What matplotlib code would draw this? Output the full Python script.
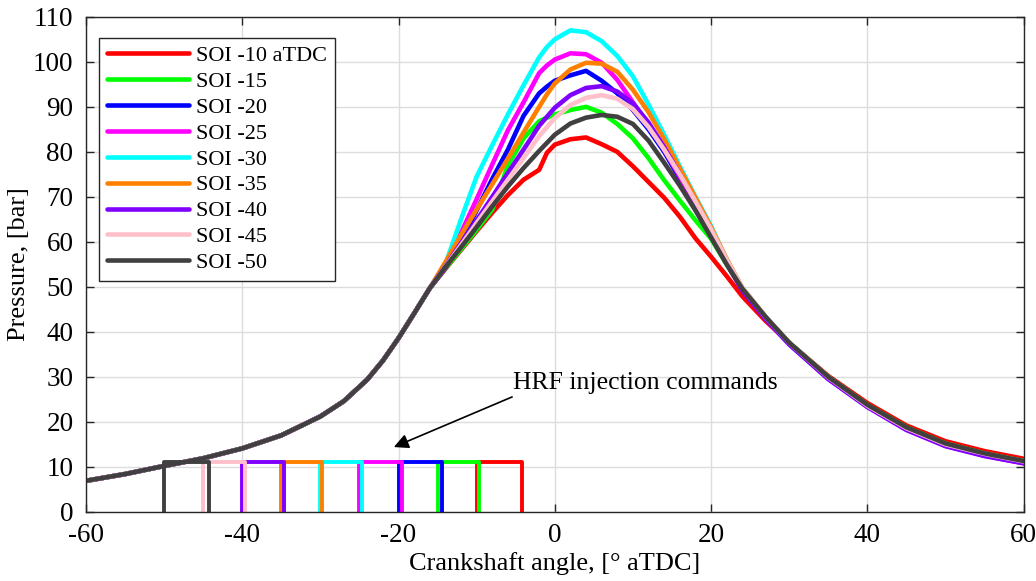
import matplotlib
matplotlib.use('Agg')
import matplotlib.pyplot as plt
import numpy as np

plt.rcParams['font.family'] = ['Liberation Serif', 'DejaVu Serif']
plt.rcParams['axes.unicode_minus'] = False

# compression stroke, identical for every case
theta_comp = [-60, -55, -50, -45, -40, -35, -30, -27, -24, -22, -20, -18, -16]
p_comp = [6.9, 8.4, 10.2, 11.9, 14.1, 17.0, 21.2, 24.6, 29.4, 33.6, 38.6, 44.1, 49.7]

# combustion / expansion part, one list per start of injection
theta_comb = [-14, -12, -10, -8, -6, -4, -2, -1, 0, 2, 4, 6, 8, 10, 12, 14, 16, 18, 20,
              22, 24, 27, 30, 35, 40, 45, 50, 55, 60]

p_soi10 = [54.0, 58.2, 62.4, 66.5, 70.4, 73.8, 76.0, 79.8, 81.6, 82.8, 83.2, 81.7, 80.0, 76.8,
           73.3, 69.8, 65.6, 60.8, 56.7, 52.4, 47.9, 42.4, 37.6, 30.2, 24.2, 19.2, 15.7, 13.5, 11.8]
p_soi15 = [54.1, 58.4, 62.7, 67.2, 77.0, 83.0, 86.8, 87.6, 88.3, 89.3, 90.0, 88.7, 86.2, 83.0,
           78.6, 73.7, 69.2, 64.8, 60.7, 55.0, 49.4, 43.2, 37.6, 30.0, 23.8, 18.8, 15.2, 13.0, 11.3]
p_soi20 = [54.2, 60.0, 67.0, 74.0, 80.5, 88.0, 93.0, 94.5, 95.8, 97.0, 98.0, 95.8, 93.0, 89.3,
           85.0, 80.0, 74.0, 68.0, 61.8, 55.2, 49.6, 43.2, 37.5, 29.8, 23.6, 18.6, 15.0, 12.8, 11.1]
p_soi25 = [54.3, 62.0, 69.5, 77.2, 84.8, 91.0, 97.5, 99.2, 100.5, 101.9, 101.7, 99.8, 96.0, 91.0,
           86.0, 80.5, 74.5, 68.3, 62.0, 55.2, 49.4, 43.0, 37.3, 29.6, 23.4, 18.3, 14.7, 12.5, 10.8]
p_soi30 = [55.0, 65.0, 74.5, 81.5, 88.3, 94.8, 101.0, 103.3, 105.0, 107.0, 106.6, 104.6, 101.3, 96.8,
           90.5, 83.8, 76.8, 70.0, 63.5, 56.0, 49.8, 43.3, 37.6, 29.9, 23.6, 18.6, 15.0, 12.9, 11.2]
p_soi35 = [55.5, 61.5, 67.2, 72.8, 78.5, 84.3, 90.0, 92.8, 95.2, 98.3, 99.8, 99.6, 97.8, 93.8,
           88.8, 82.8, 76.3, 69.8, 63.2, 56.2, 49.8, 43.3, 37.6, 29.9, 23.6, 18.6, 15.0, 12.9, 11.2]
p_soi40 = [54.6, 59.7, 64.8, 70.0, 75.3, 80.5, 85.8, 87.8, 89.8, 92.6, 94.2, 94.6, 93.4, 90.8,
           86.5, 81.0, 75.0, 68.5, 62.0, 55.2, 49.2, 42.8, 37.2, 29.5, 23.3, 18.2, 14.6, 12.4, 10.8]
p_soi45 = [54.5, 59.3, 64.2, 69.0, 73.8, 78.6, 83.5, 85.5, 87.5, 90.4, 92.0, 92.6, 91.8, 89.5,
           85.5, 80.5, 75.0, 69.0, 62.8, 56.0, 49.8, 43.3, 37.6, 29.9, 23.6, 18.6, 15.0, 12.9, 11.2]
p_soi50 = [54.4, 58.8, 63.3, 67.9, 72.3, 76.4, 80.2, 82.0, 83.8, 86.3, 87.6, 88.2, 87.8, 86.2,
           82.5, 77.6, 72.5, 67.0, 61.0, 55.0, 49.6, 43.3, 37.6, 30.0, 23.8, 18.8, 15.2, 13.0, 11.3]

labels = ['SOI -10 aTDC', 'SOI -15', 'SOI -20', 'SOI -25', 'SOI -30',
          'SOI -35', 'SOI -40', 'SOI -45', 'SOI -50']
colors = ['#ff0000', '#00ff00', '#0000ff', '#ff00ff', '#00ffff',
          '#ff8000', '#8000ff', '#ffc0cb', '#404040']
curves = [p_soi10, p_soi15, p_soi20, p_soi25, p_soi30, p_soi35, p_soi40, p_soi45, p_soi50]

# HRF injection command pulses (start / end angle, command level)
inj_start = [-10, -15, -20, -25, -30, -35, -40, -45, -50]
inj_end = [-4.2, -9.7, -14.4, -19.6, -24.7, -29.8, -34.7, -39.6, -44.3]
inj_level = 11

fig = plt.figure(figsize=(10.36, 5.81), dpi=100)
ax = fig.add_axes([0.083, 0.119, 0.905, 0.852])

theta = theta_comp + theta_comb
for p, c, lab in zip(curves, colors, labels):
    ax.plot(theta, p_comp + p, color=c, lw=3.3, label=lab,
            solid_joinstyle='round', solid_capstyle='round')

for s, e, c in zip(inj_start, inj_end, colors):
    ax.plot([s, s, e, e], [0, inj_level, inj_level, 0], color=c, lw=2.8)

ax.set_xlim(-60, 60)
ax.set_ylim(0, 110)
ax.set_xticks(np.arange(-60, 61, 20))
ax.set_yticks(np.arange(0, 111, 10))
ax.grid(True, color='#dcdcdc', lw=1.0)
ax.set_axisbelow(True)
ax.tick_params(direction='in', top=True, right=True, labelsize=19.5, length=6,
               color='#262626', width=1.0)
ax.tick_params(axis='y', pad=9)
ax.tick_params(axis='x', pad=8)
for sp in ax.spines.values():
    sp.set_color('#262626')
    sp.set_linewidth(1.0)

ax.set_xlabel('Crankshaft angle, [\u00b0 aTDC]', fontsize=19, labelpad=3)
ax.set_ylabel('Pressure, [bar]', fontsize=19, labelpad=2)

ax.annotate('HRF injection commands', xy=(-20.6, 14.4), xytext=(-5.3, 28.6),
            fontsize=18.5, va='center', ha='left',
            arrowprops=dict(arrowstyle='-|>', color='k', lw=1.2, mutation_scale=22,
                            shrinkA=0, shrinkB=0, relpos=(0.02, 0.0)))

leg = ax.legend(loc='upper left', bbox_to_anchor=(0.014, 0.958), fontsize=16,
                frameon=True, fancybox=False, edgecolor='#262626', framealpha=1,
                handlelength=3.7, handletextpad=0.3, labelspacing=0.24,
                borderpad=0.35, borderaxespad=0)
leg.get_frame().set_linewidth(1.0)

fig.savefig('out.png', dpi=100)
